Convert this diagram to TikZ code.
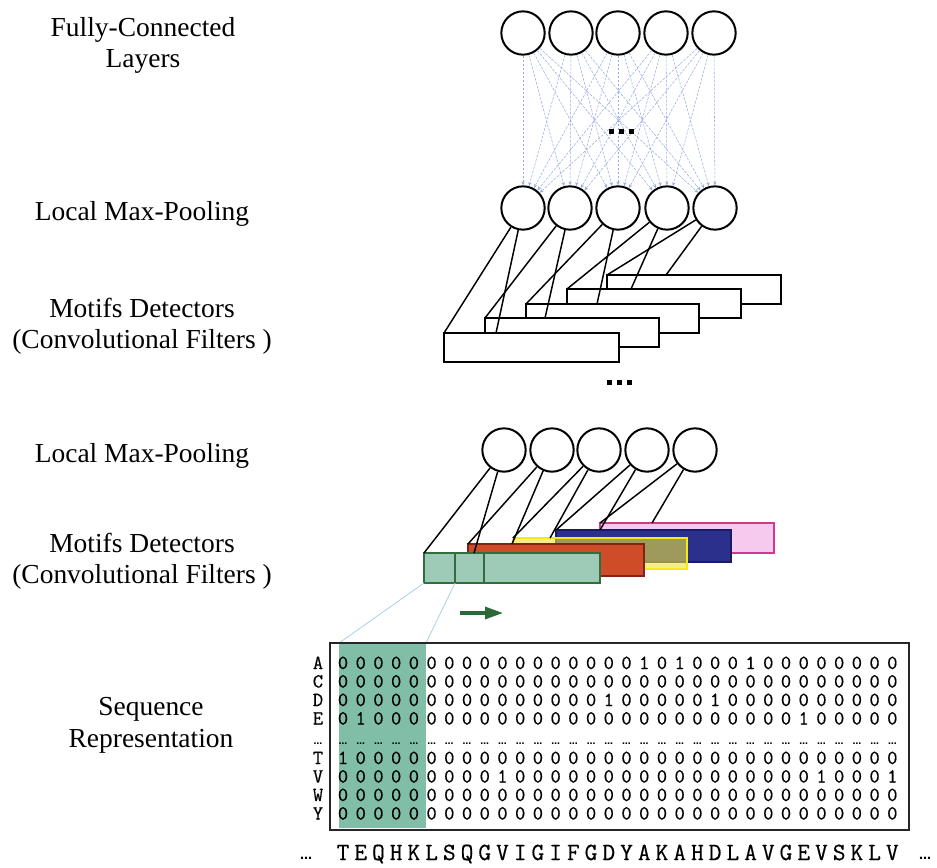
\documentclass[tikz,border=0pt]{standalone}
\usepackage{fontspec}
\setmainfont{Liberation Serif}
\newfontfamily\dvsans{DejaVu Sans}
\newfontfamily\cmono{Latin Modern Mono}[FakeBold=0.5]
\usetikzlibrary{arrows.meta}
\definecolor{fcblue}{RGB}{150,172,225}
\definecolor{gfill}{RGB}{158,203,183}
\definecolor{gdraw}{RGB}{50,110,60}
\definecolor{rfill}{RGB}{206,76,40}
\definecolor{rdraw}{RGB}{130,35,20}
\definecolor{yfill}{RGB}{235,225,60}
\definecolor{ydraw}{RGB}{242,236,20}
\definecolor{bfill}{RGB}{42,48,140}
\definecolor{bdraw}{RGB}{25,28,100}
\definecolor{pfill}{RGB}{246,202,238}
\definecolor{pdraw}{RGB}{205,60,140}
\definecolor{hlcol}{RGB}{128,190,168}
\definecolor{linkcol}{RGB}{165,210,230}
\definecolor{arrowgreen}{RGB}{45,105,55}
\newcommand\mrow[3]{%
  \node[mono] (lab#1) at (318,#2) {#1};
  \foreach \d [count=\k from 0] in {#3} {\node[mono] (m#1\k) at ({343+17.72*\k},#2) {\d};}%
}
\begin{document}
\begin{tikzpicture}[x=0.75pt,y=-0.75pt,
  neuron/.style={circle,draw=black,line width=1.5pt,fill=white,minimum size=32.5pt,inner sep=0pt},
  lbl/.style={font=\fontsize{20.6}{24}\selectfont,anchor=base,inner sep=0pt},
  mono/.style={font=\cmono\fontsize{15}{15}\selectfont,anchor=base,inner sep=0pt},
  seq/.style={font=\cmono\fontsize{18.5}{18.5}\selectfont,anchor=base,inner sep=0pt},
  mdots/.style={font=\dvsans\bfseries\fontsize{6.5}{6.5}\selectfont,anchor=base,inner sep=0pt},
  bdots/.style={font=\dvsans\bfseries\fontsize{9}{9}\selectfont,anchor=base,inner sep=0pt},
  sq/.style={fill=black,minimum size=3.75pt,inner sep=0pt},
  fcline/.style={draw=fcblue,line width=0.4pt,dash pattern=on 2pt off 1pt,-{Stealth[length=3pt,width=2.5pt]}},
  link/.style={draw=black,line width=1.1pt},
  frect/.style={draw=black,line width=1.3pt,fill=white},
  lightline/.style={draw=linkcol,line width=0.6pt}]
\useasboundingbox (0,0) rectangle (937,867);

% left labels
\node[lbl] (lFC1) at (143,37) {Fully-Connected};
\node[lbl] (lFC2) at (143,67) {Layers};
\node[lbl] (lMP1) at (142,220) {Local Max-Pooling};
\node[lbl] (lMD1) at (142,317) {Motifs Detectors};
\node[lbl] (lCF1) at (142,348) {(Convolutional Filters )};
\node[lbl] (lMP2) at (142,462) {Local Max-Pooling};
\node[lbl] (lMD2) at (142,552) {Motifs Detectors};
\node[lbl] (lCF2) at (142,583) {(Convolutional Filters )};
\node[lbl] (lSR1) at (151,715) {Sequence};
\node[lbl] (lSR2) at (151,747) {Representation};

% neurons
\foreach \x [count=\i] in {523,571,618,666,714} \node[neuron] (t\i) at (\x,33) {};
\foreach \x [count=\i] in {523,570,618,667,715} \node[neuron] (p\i) at (\x,208) {};
\foreach \x [count=\i] in {504,552,599,647,695} \node[neuron] (q\i) at (\x,450) {};

% fully connected links
\foreach \i in {1,...,5} \foreach \j in {1,...,5} \draw[fcline] (t\i) -- (p\j);
\foreach \x [count=\n] in {611,621,631} \node[sq] (dA\n) at (\x,131) {};

% first convolutional filters
\filldraw[frect] (607,275) rectangle (781,304);
\filldraw[frect] (567,289) rectangle (741,318);
\filldraw[frect] (526,304) rectangle (699,333);
\filldraw[frect] (485,318) rectangle (659,347);
\filldraw[frect] (444,333) rectangle (619,362);
\coordinate (a1) at (444,333); \coordinate (b1) at (496,333);
\coordinate (a2) at (485,318); \coordinate (b2) at (545,318);
\coordinate (a3) at (526,304); \coordinate (b3) at (597,304);
\coordinate (a4) at (567,289); \coordinate (b4) at (631,289);
\coordinate (a5) at (607,275); \coordinate (b5) at (666,275);
\foreach \i in {1,...,5} {\draw[link] (p\i) -- (a\i); \draw[link] (p\i) -- (b\i);}
\foreach \x [count=\n] in {609,619,629} \node[sq] (dB\n) at (\x,382) {};

% coloured filters
\filldraw[draw=pdraw,fill=pfill,line width=1.5pt] (600,523) rectangle (774,553);
\filldraw[draw=bdraw,fill=bfill,line width=1.5pt] (556,530) rectangle (731,562);
\filldraw[draw=ydraw,fill=yfill,fill opacity=0.6,line width=1.5pt] (513,538) rectangle (687,569);
\filldraw[draw=rdraw,fill=rfill,line width=1.5pt] (468,544) rectangle (644,576);
\filldraw[draw=gdraw,fill=gfill,line width=1.5pt] (424,553) rectangle (600,583);
\draw[draw=gdraw,line width=1.5pt] (455,553) -- (455,583);
\draw[draw=gdraw,line width=1.5pt] (484,553) -- (484,583);
\coordinate (c1) at (424,553); \coordinate (d1) at (474,553);
\coordinate (c2) at (468,544); \coordinate (d2) at (512,544);
\coordinate (c3) at (513,538); \coordinate (d3) at (550,538);
\coordinate (c4) at (556,530); \coordinate (d4) at (600,530);
\coordinate (c5) at (600,523); \coordinate (d5) at (652,523);
\foreach \i in {1,...,5} {\draw[link] (q\i) -- (c\i); \draw[link] (q\i) -- (d\i);}

% sliding arrow
\coordinate (arS) at (460,613); \coordinate (arE) at (503,613);
\draw[arrowgreen,line width=2.3pt,-{Triangle[length=13.5pt,width=9pt]}] (arS) -- (arE);

% sequence representation
\fill[hlcol] (339,643) rectangle (426,828);
\coordinate (hlTL) at (339,643); \coordinate (hlTR) at (426,643);
\coordinate (gBL) at (424,583); \coordinate (gBR) at (455,583);
\draw[lightline] (gBL) -- (hlTL);
\draw[lightline] (gBR) -- (hlTR);
\draw[line width=1.2pt,draw=black!85] (330,643) rectangle (909,830);

\mrow{A}{669}{0,0,0,0,0,0,0,0,0,0,0,0,0,0,0,0,0,1,0,1,0,0,0,1,0,0,0,0,0,0,0,0}
\mrow{C}{687.5}{0,0,0,0,0,0,0,0,0,0,0,0,0,0,0,0,0,0,0,0,0,0,0,0,0,0,0,0,0,0,0,0}
\mrow{D}{706}{0,0,0,0,0,0,0,0,0,0,0,0,0,0,0,1,0,0,0,0,0,1,0,0,0,0,0,0,0,0,0,0}
\mrow{E}{724.5}{0,1,0,0,0,0,0,0,0,0,0,0,0,0,0,0,0,0,0,0,0,0,0,0,0,0,1,0,0,0,0,0}
\node[mdots] (labdots) at (318,744) {…};
\foreach \k in {0,...,31} \node[mdots] (md\k) at ({343+17.72*\k},744) {…};
\mrow{T}{764}{1,0,0,0,0,0,0,0,0,0,0,0,0,0,0,0,0,0,0,0,0,0,0,0,0,0,0,0,0,0,0,0}
\mrow{V}{782.5}{0,0,0,0,0,0,0,0,0,1,0,0,0,0,0,0,0,0,0,0,0,0,0,0,0,0,0,1,0,0,0,1}
\mrow{W}{801}{0,0,0,0,0,0,0,0,0,0,0,0,0,0,0,0,0,0,0,0,0,0,0,0,0,0,0,0,0,0,0,0}
\mrow{Y}{819.5}{0,0,0,0,0,0,0,0,0,0,0,0,0,0,0,0,0,0,0,0,0,0,0,0,0,0,0,0,0,0,0,0}

\node[bdots] (sL) at (306,859) {…};
\foreach \c [count=\k from 0] in {T,E,Q,H,K,L,S,Q,G,V,I,G,I,F,G,D,Y,A,K,A,H,D,L,A,V,G,E,V,S,K,L,V}
  \node[seq] (s\k) at ({343+17.72*\k},860) {\c};
\node[bdots] (sR) at (925,859) {…};
\end{tikzpicture}
\end{document}
